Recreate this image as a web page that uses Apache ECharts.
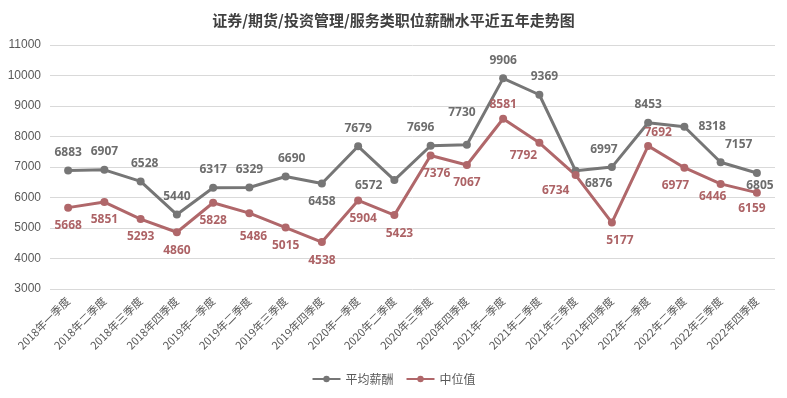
<!DOCTYPE html>
<html>
<head>
<meta charset="utf-8">
<script src="https://cdn.jsdelivr.net/npm/echarts@6/dist/echarts.min.js"></script>
<style>
  html, body { margin: 0; padding: 0; background: #fff; }
  #chart { width: 787px; height: 398px; }
</style>
</head>
<body>
<div id="chart"></div>
<script>
const quarters = [
  '2018年一季度', '2018年二季度', '2018年三季度', '2018年四季度',
  '2019年一季度', '2019年二季度', '2019年三季度', '2019年四季度',
  '2020年一季度', '2020年二季度', '2020年三季度', '2020年四季度',
  '2021年一季度', '2021年二季度', '2021年三季度', '2021年四季度',
  '2022年一季度', '2022年二季度', '2022年三季度', '2022年四季度'
]
const avgPay = [6883, 6907, 6528, 5440, 6317, 6329, 6690, 6458, 7679, 6572, 7696, 7730, 9906, 9369, 6876, 6997, 8453, 8318, 7157, 6805]
const medianPay = [5668, 5851, 5293, 4860, 5828, 5486, 5015, 4538, 5904, 5423, 7376, 7067, 8581, 7792, 6734, 5177, 7692, 6977, 6446, 6159]

// label tweaks (index -> position / offset), mimicking the excel layout
const avgLabelPos = {
  2: { position: 'top', offset: [4, 0] },
  6: { position: 'top', offset: [6, 0] },
  7: { position: 'bottom' },
  9: { position: 'left', offset: [0, 6] },
  10: { position: 'top', offset: [-10, 0] },
  11: { position: 'top', offset: [-5, -14] },
  13: { position: 'top', offset: [5, 0] },
  14: { position: 'bottom', offset: [23, -5] },
  15: { position: 'top', offset: [-8, 0] },
  17: { position: 'right', offset: [2, 0] },
  18: { position: 'top', offset: [18, 0] },
  19: { position: 'bottom', offset: [3, -5] }
}
const medianLabelPos = {
  5: { position: 'bottom', offset: [4, 5] },
  9: { position: 'bottom', offset: [5, 0] },
  8: { position: 'bottom', offset: [5, 0] },
  10: { position: 'bottom', offset: [6, 0] },
  12: { position: 'top', offset: [0, 4] },
  13: { position: 'bottom', offset: [-16, -5] },
  14: { position: 'bottom', offset: [-20, -3] },
  15: { position: 'bottom', offset: [8, 0] },
  16: { position: 'top', offset: [10, 5] },
  17: { position: 'bottom', offset: [-9, 0] },
  18: { position: 'bottom', offset: [-8, -5] },
  19: { position: 'bottom', offset: [-5, -2] }
}

function withLabels(values, overrides) {
  return values.map((v, i) => overrides[i] ? { value: v, label: overrides[i] } : v)
}

const chart = echarts.init(document.getElementById('chart'))
chart.setOption({
  animation: false,
  title: {
    text: '证券/期货/投资管理/服务类职位薪酬水平近五年走势图',
    left: 'center',
    top: 8,
    textStyle: {
      fontFamily: 'Noto Sans CJK SC',
      fontSize: 15,
      fontWeight: 'bold',
      color: '#404040'
    }
  },
  grid: {
    left: 50,
    right: 12,
    top: 45,
    bottom: 109
  },
  legend: {
    data: ['平均薪酬', '中位值'],
    bottom: 8,
    itemWidth: 28,
    itemHeight: 8,
    itemGap: 12,
    textStyle: {
      fontFamily: 'Noto Sans CJK SC',
      fontSize: 12,
      color: '#595959'
    }
  },
  xAxis: {
    type: 'category',
    data: quarters,
    axisLine: { show: false },
    axisTick: { show: false },
    axisLabel: {
      rotate: 45,
      interval: 0,
      margin: 10,
      fontFamily: 'Noto Sans CJK SC',
      fontSize: 11,
      color: '#595959'
    }
  },
  yAxis: {
    type: 'value',
    min: 3000,
    max: 11000,
    interval: 1000,
    axisLabel: {
      formatter: (v) => String(v),
      fontFamily: 'Liberation Sans',
      fontSize: 12,
      color: '#595959',
      margin: 9
    },
    splitLine: {
      lineStyle: { color: '#d9d9d9', width: 1 }
    }
  },
  series: [
    {
      name: '平均薪酬',
      type: 'line',
      data: withLabels(avgPay, avgLabelPos),
      symbol: 'circle',
      symbolSize: 8,
      lineStyle: { width: 3, color: '#767676' },
      itemStyle: { color: '#767676' },
      label: {
        show: true,
        position: 'top',
        distance: 8,
        fontFamily: 'Open Sans',
        fontSize: 12,
        fontWeight: 'bold',
        color: '#6d6d6d'
      }
    },
    {
      name: '中位值',
      type: 'line',
      data: withLabels(medianPay, medianLabelPos),
      symbol: 'circle',
      symbolSize: 8,
      lineStyle: { width: 3, color: '#b0676a' },
      itemStyle: { color: '#b0676a' },
      label: {
        show: true,
        position: 'bottom',
        distance: 8,
        fontFamily: 'Open Sans',
        fontSize: 12,
        fontWeight: 'bold',
        color: '#ad6366'
      }
    }
  ]
})
</script>
</body>
</html>
